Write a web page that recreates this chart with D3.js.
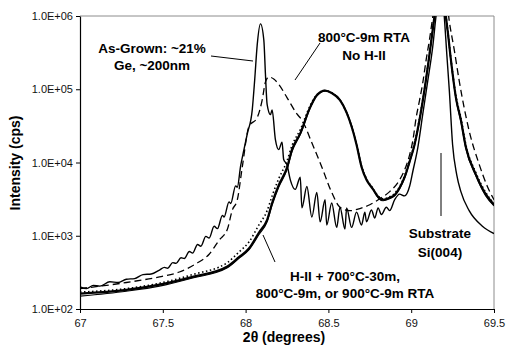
<!DOCTYPE html>
<html>
<head>
<meta charset="utf-8">
<script src="https://cdn.jsdelivr.net/npm/d3@7"></script>
<style>
  body { margin: 0; background: #fff; }
  svg { display: block; font-family: "Liberation Sans", Arial, sans-serif; }
</style>
</head>
<body>
<figure id="xrd" style="margin:0"></figure>
<script>
// As-grown (~21% Ge, ~200nm)
const asGrownTheta = [67.00, 67.04, 67.08, 67.12, 67.18, 67.23, 67.28, 67.33, 67.38, 67.43, 67.48, 67.51, 67.53, 67.56, 67.58, 67.61, 67.63, 67.66, 67.68, 67.71, 67.73, 67.76, 67.78, 67.81, 67.83, 67.86, 67.87, 67.90, 67.91, 67.94, 67.95, 67.97, 67.99, 68.01, 68.04, 68.055, 68.07, 68.09, 68.11, 68.12, 68.13, 68.15, 68.16, 68.18, 68.20, 68.22, 68.23, 68.25, 68.27, 68.30, 68.33, 68.34, 68.37, 68.40, 68.43, 68.45, 68.48, 68.49, 68.52, 68.55, 68.57, 68.60, 68.61, 68.64, 68.67, 68.70, 68.72, 68.73, 68.76, 68.78, 68.80, 68.82, 68.85, 68.87, 68.90, 68.93, 68.96, 68.99, 69.01, 69.04, 69.07, 69.10, 69.13, 69.15, 69.18, 69.20, 69.215, 69.23, 69.25, 69.275, 69.30, 69.35, 69.43, 69.50];
const asGrownCps = [200, 190, 210, 205, 235, 230, 255, 260, 295, 300, 340, 370, 360, 430, 420, 500, 490, 610, 580, 760, 720, 980, 930, 1350, 1250, 1900, 1800, 2900, 2750, 4800, 4600, 9000, 15000, 24500, 52000, 135000, 400000, 780000, 470000, 158000, 62000, 45000, 52000, 20500, 15000, 19000, 11000, 9300, 5800, 4300, 6300, 2400, 4700, 1800, 3900, 1550, 3100, 1400, 2800, 1300, 2450, 1230, 2400, 1300, 2100, 1400, 2100, 1550, 2250, 1750, 2400, 1950, 2450, 2200, 3100, 3700, 3500, 4700, 7600, 16000, 46000, 130000, 380000, 1000000, 3000000, 970000, 300000, 98000, 17500, 6800, 4000, 2200, 1350, 1070];

// 800°C-9m RTA, no H-II
const noH2Theta = [67.00, 67.28, 67.48, 67.60, 67.70, 67.78, 67.84, 67.89, 67.92, 67.95, 67.98, 68.02, 68.07, 68.10, 68.12, 68.14, 68.17, 68.20, 68.25, 68.31, 68.34, 68.40, 68.46, 68.52, 68.57, 68.63, 68.69, 68.75, 68.81, 68.87, 68.93, 68.96, 68.99, 69.01, 69.03, 69.05, 69.07, 69.09, 69.11, 69.13, 69.16, 69.18, 69.20, 69.23, 69.26, 69.29, 69.35, 69.41, 69.46, 69.50];
const noH2Cps = [190, 230, 275, 320, 415, 560, 870, 1230, 2250, 3100, 8700, 31000, 41000, 71000, 126000, 147000, 138000, 117000, 77000, 46000, 38000, 18600, 8700, 3900, 2450, 2200, 2350, 2650, 3200, 4000, 5800, 7900, 12600, 20000, 41000, 70000, 123000, 250000, 470000, 970000, 3000000, 3000000, 3000000, 850000, 345000, 130000, 27000, 9500, 4700, 3100];

// H-II + anneal (three runs)
const h2Theta = [67.00, 67.28, 67.48, 67.68, 67.89, 67.96, 68.02, 68.08, 68.13, 68.16, 68.20, 68.25, 68.28, 68.33, 68.39, 68.43, 68.48, 68.52, 68.57, 68.61, 68.64, 68.67, 68.70, 68.73, 68.77, 68.80, 68.83, 68.87, 68.90, 68.93, 68.96, 68.99, 69.02, 69.05, 69.08, 69.11, 69.14, 69.17, 69.22, 69.24, 69.27, 69.30, 69.33, 69.39, 69.45, 69.50];
const h2Rta800Cps = [162, 182, 215, 275, 380, 510, 670, 1100, 1650, 2800, 4900, 8500, 15000, 25000, 57000, 83000, 96000, 89000, 71000, 48000, 31000, 17500, 8700, 5800, 4300, 3400, 3100, 3300, 3600, 4500, 6300, 10200, 17500, 38000, 98000, 295000, 970000, 3000000, 630000, 250000, 77000, 38000, 16300, 6900, 3700, 2650];
const h2Rta900Cps = [150, 175, 205, 265, 365, 490, 640, 1030, 1550, 2600, 4600, 8000, 14000, 24000, 55000, 81000, 95000, 89000, 72000, 49000, 32000, 18000, 9000, 5900, 4300, 3300, 3000, 3200, 3500, 4400, 6100, 10000, 17000, 37000, 95000, 290000, 950000, 3000000, 610000, 240000, 74000, 36000, 15500, 6600, 3500, 2550];
const h2Furnace700Cps = [170, 190, 225, 295, 430, 600, 820, 1400, 2200, 3500, 6000, 10500, 17000, 28000, 60000, 84000, 96000, 89000, 71000, 48000, 31000, 17500, 9000, 6000, 4400, 3500, 3200, 3400, 3800, 4700, 6600, 10800, 18500, 40000, 100000, 300000, 970000, 3000000, 650000, 260000, 82000, 41000, 17500, 7300, 3900, 2750];

// ticks
const xTicks = [67, 67.5, 68, 68.5, 69, 69.5];
const yTicks = [1e2, 1e3, 1e4, 1e5, 1e6];

const W = 506, H = 346;
const plotLeft = 80, plotRight = 494, plotTop = 16, plotBottom = 309;

const svg = d3.select("figure#xrd")
  .append("svg")
  .attr("width", W)
  .attr("height", H);

const x = d3.scaleLinear().domain([67, 69.5]).range([plotLeft, plotRight]);
const y = d3.scaleLog().domain([1e2, 1e6]).range([plotBottom, plotTop]);

svg.append("defs").append("clipPath").attr("id", "plot")
  .append("rect")
  .attr("x", plotLeft).attr("y", plotTop)
  .attr("width", plotRight - plotLeft).attr("height", plotBottom - plotTop);

// frame (top & right grey)
svg.append("path")
  .attr("d", `M${plotLeft},${plotTop}H${plotRight}V${plotBottom}`)
  .attr("fill", "none")
  .attr("stroke", "#8c8c8c")
  .attr("stroke-width", 1);

const zip = (t, c) => t.map((d, i) => ({ t: d, c: c[i] }));
const line = d3.line()
  .x(d => x(d.t))
  .y(d => y(d.c))
  .curve(d3.curveMonotoneX);

const curves = svg.append("g").attr("clip-path", "url(#plot)");

function drawCurve(data, width, dash) {
  curves.append("path")
    .datum(data)
    .attr("d", line)
    .attr("fill", "none")
    .attr("stroke", "#000")
    .attr("stroke-width", width)
    .attr("stroke-dasharray", dash)
    .attr("stroke-linejoin", "round");
}

drawCurve(zip(noH2Theta, noH2Cps), 1.3, "7,4");
drawCurve(zip(h2Theta, h2Furnace700Cps), 1.6, "1.5,2.5");
drawCurve(zip(h2Theta, h2Rta900Cps), 1.1, null);
drawCurve(zip(h2Theta, h2Rta800Cps), 2.2, null);
drawCurve(zip(asGrownTheta, asGrownCps), 1.4, null);

// axes
const yAxis = svg.append("g")
  .attr("transform", `translate(${plotLeft},0)`)
  .call(d3.axisLeft(y).tickValues(yTicks).tickSize(4).tickSizeOuter(0)
    .tickFormat(d => "1.0E+0" + Math.round(Math.log10(d))));
const xAxis = svg.append("g")
  .attr("transform", `translate(0,${plotBottom})`)
  .call(d3.axisBottom(x).tickValues(xTicks).tickSize(4).tickSizeOuter(0)
    .tickFormat(d3.format("")));

[xAxis, yAxis].forEach(g => {
  g.select(".domain").attr("stroke", "#000").attr("stroke-width", 1.2);
  g.selectAll(".tick line").attr("stroke", "#000");
  g.selectAll("text").attr("font-family", "Liberation Sans, Arial, sans-serif")
    .attr("font-size", 11).attr("fill", "#111");
});
yAxis.selectAll("text").attr("x", -7);
xAxis.selectAll("text").attr("y", 10);

// axis titles
svg.append("text")
  .attr("x", 284).attr("y", 342)
  .attr("text-anchor", "middle")
  .attr("font-weight", "bold").attr("font-size", 14)
  .text("2θ (degrees)");

svg.append("text")
  .attr("transform", "translate(20,163) rotate(-90)")
  .attr("text-anchor", "middle")
  .attr("font-weight", "bold").attr("font-size", 14)
  .text("Intensity (cps)");

// annotations
function label(lines, cx, cy, gap) {
  const t = svg.append("text")
    .attr("text-anchor", "middle")
    .attr("font-weight", "bold").attr("font-size", 13.5);
  lines.forEach((s, i) => {
    t.append("tspan").attr("x", cx).attr("y", cy + i * gap).text(s);
  });
}
function leader(x1, y1, x2, y2) {
  svg.append("line")
    .attr("x1", x1).attr("y1", y1).attr("x2", x2).attr("y2", y2)
    .attr("stroke", "#000").attr("stroke-width", 1);
}

label(["As-Grown: ~21%", "Ge, ~200nm"], 152, 53, 17);
leader(211, 56, 253, 61);

label(["800°C-9m RTA", "No H-II"], 364, 42, 18);
leader(320, 43, 295, 80);

label(["Substrate", "Si(004)"], 440, 238, 19);
leader(441, 153, 441, 216);

label(["H-II + 700°C-30m,", "800°C-9m, or 900°C-9m RTA"], 345, 281, 17);
leader(263, 235, 275, 262);
</script>
</body>
</html>
